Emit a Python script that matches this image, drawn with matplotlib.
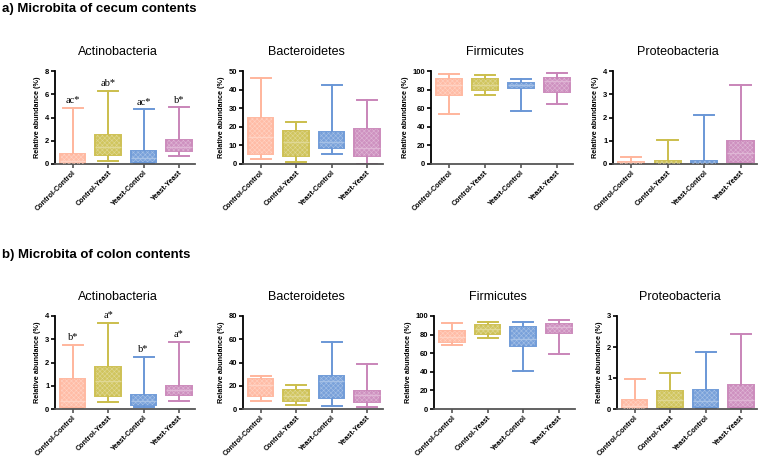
#Boxplots de abundancia relativa (ceco e colon)

import matplotlib
matplotlib.use("Agg")
import matplotlib.pyplot as plt
from matplotlib.patches import Rectangle
from matplotlib.colors import to_rgb

plt.rcParams['font.family'] = ['Liberation Sans', 'DejaVu Sans']
plt.rcParams['hatch.linewidth'] = 0.4

#Dados
groups = ["Control-Control", "Control-Yeast", "Yeast-Control", "Yeast-Yeast"]
phyla = ["Actinobacteria", "Bacteroidetes", "Firmicutes", "Proteobacteria"]
colors = ["#FFB59C", "#CBBE4C", "#6A97D6", "#C985B9"]

#ceco: [min, q1, mediana, q3, max] por grupo
cecum_actino = [[0.0, 0.0, 0.3, 0.85, 4.84], [0.23, 0.74, 1.5, 2.5, 6.27],
                [0.05, 0.14, 0.5, 1.08, 4.7], [0.71, 1.08, 1.5, 2.08, 4.87]]
cecum_bacter = [[2.5, 5.2, 14.6, 24.8, 46.2], [0.9, 4.3, 12.0, 17.9, 22.7],
                [5.2, 8.4, 12.0, 17.0, 42.3], [0.0, 4.3, 8.4, 18.6, 34.3]]
cecum_firmi = [[53.6, 73.9, 84.6, 91.8, 96.8], [74.6, 80.0, 84.6, 91.8, 96.0],
               [57.0, 82.0, 84.6, 87.0, 91.8], [64.0, 77.5, 89.0, 92.5, 97.9]]
cecum_proteo = [[0.0, 0.0, 0.03, 0.1, 0.3], [0.0, 0.0, 0.03, 0.14, 1.04],
                [0.0, 0.0, 0.02, 0.13, 2.1], [0.02, 0.1, 0.46, 0.99, 3.39]]

#colon
colon_actino = [[0.05, 0.09, 0.33, 1.29, 2.76], [0.3, 0.57, 1.19, 1.8, 3.69],
                [0.07, 0.16, 0.33, 0.6, 2.24], [0.33, 0.61, 0.83, 0.97, 2.9]]
colon_bacter = [[6.6, 10.9, 20.3, 25.7, 28.6], [3.7, 6.6, 10.9, 16.0, 20.9],
                [2.9, 9.4, 23.7, 28.6, 58.0], [1.4, 6.0, 12.3, 15.7, 38.9]]
colon_firmi = [[68.9, 71.8, 77.9, 84.0, 92.5], [76.1, 80.4, 86.0, 90.4, 93.6],
               [40.4, 67.9, 75.0, 88.6, 93.2], [59.6, 82.0, 87.9, 91.0, 95.7]]
colon_proteo = [[0.0, 0.0, 0.1, 0.3, 0.98], [0.0, 0.05, 0.3, 0.59, 1.15],
                [0.02, 0.08, 0.25, 0.62, 1.84], [0.03, 0.06, 0.3, 0.76, 2.43]]

#Letras de significancia (Actinobacteria)
cecum_letters = ["ac*", "ab*", "ac*", "b*"]
colon_letters = ["b*", "a*", "b*", "a*"]

cecum_ylim = [8, 50, 100, 4]
cecum_yticks = [[0, 2, 4, 6, 8], [0, 10, 20, 30, 40, 50], [0, 20, 40, 60, 80, 100], [0, 1, 2, 3, 4]]
colon_ylim = [4, 80, 100, 3]
colon_yticks = [[0, 1, 2, 3, 4], [0, 20, 40, 60, 80], [0, 20, 40, 60, 80, 100], [0, 1, 2, 3]]

W, H = 760, 457
fig = plt.figure(figsize=(7.6, 4.57), dpi=100)


def lighten(c, f):
    r, g, b = to_rgb(c)
    return (r + (1 - r) * f, g + (1 - g) * f, b + (1 - b) * f)


def panel(x0, x1, ytop, ybot, stats_list, ymax, yticks, title, letters=None):
    ax = fig.add_axes([x0 / W, 1 - ybot / H, (x1 - x0) / W, (ybot - ytop) / H])
    stats = []
    for s in stats_list:
        stats.append(dict(whislo=s[0], q1=s[1], med=s[2], q3=s[3], whishi=s[4], fliers=[]))
    pos = [1, 2, 3, 4]
    bp = ax.bxp(stats, positions=pos, widths=0.72, capwidths=0.56, patch_artist=True,
                showfliers=False)
    for i, c in enumerate(colors):
        bp['boxes'][i].set_facecolor(lighten(c, 0.1))
        bp['boxes'][i].set_edgecolor(lighten(c, 0.05))
        bp['boxes'][i].set_linewidth(1.4)
        bp['medians'][i].set_color(lighten(c, 0.4))
        bp['medians'][i].set_linewidth(1.0)
        for art in bp['whiskers'][2 * i:2 * i + 2] + bp['caps'][2 * i:2 * i + 2]:
            art.set_color(c)
            art.set_linewidth(1.4)
        s = stats_list[i]
        ax.add_patch(Rectangle((pos[i] - 0.33, s[1]), 0.66, s[3] - s[1], fill=False,
                               hatch='xxxxxxx', edgecolor=lighten(c, 0.4), linewidth=0, zorder=3))
    ax.set_xlim(0.5, 4.45)
    ax.set_ylim(0, ymax)
    ax.set_yticks(yticks)
    ax.set_xticks(pos)
    ax.set_xticklabels(groups, rotation=45, ha='right', rotation_mode='anchor',
                       fontsize=5.2, fontweight='bold')
    for lab in ax.get_yticklabels():
        lab.set_fontsize(5.5)
        lab.set_fontweight('bold')
    ax.tick_params(axis='both', direction='out', length=3, width=1.2, pad=1)
    ax.tick_params(axis='x', colors='#555555', labelcolor='black')
    ax.spines['top'].set_visible(False)
    ax.spines['right'].set_visible(False)
    ax.spines['left'].set_linewidth(1.3)
    ax.spines['bottom'].set_linewidth(1.3)
    ax.spines['bottom'].set_color('#555555')
    ax.set_ylabel("Relative abundance (%)", fontsize=5.2, fontweight='bold', labelpad=3)
    ax.text(0.45, 1.2, title, transform=ax.transAxes, ha='center', va='center', fontsize=9)
    if letters:
        for i, t in enumerate(letters):
            ax.text(pos[i], stats_list[i][4] + ymax * 0.03, t, ha='center', va='bottom',
                    fontsize=7.5, family=['Liberation Serif', 'DejaVu Serif'])
    return ax


#Linha a) ceco
top_x = [(55, 195), (243, 383), (431, 573), (613, 757)]
cecum = [cecum_actino, cecum_bacter, cecum_firmi, cecum_proteo]
for k in range(4):
    panel(top_x[k][0], top_x[k][1], 71, 164, cecum[k], cecum_ylim[k], cecum_yticks[k],
          phyla[k], cecum_letters if k == 0 else None)

#Linha b) colon
bot_x = [(55, 195), (243, 383), (434, 575), (617, 757)]
colon = [colon_actino, colon_bacter, colon_firmi, colon_proteo]
for k in range(4):
    panel(bot_x[k][0], bot_x[k][1], 316, 409, colon[k], colon_ylim[k], colon_yticks[k],
          phyla[k], colon_letters if k == 0 else None)

fig.text(2 / W, 1 - 9 / H, "a) Microbita of cecum contents", fontsize=9.5, fontweight='bold',
         va='center', ha='left')
fig.text(2 / W, 1 - 255 / H, "b) Microbita of colon contents", fontsize=9.5, fontweight='bold',
         va='center', ha='left')

fig.savefig("out.png", dpi=100)
